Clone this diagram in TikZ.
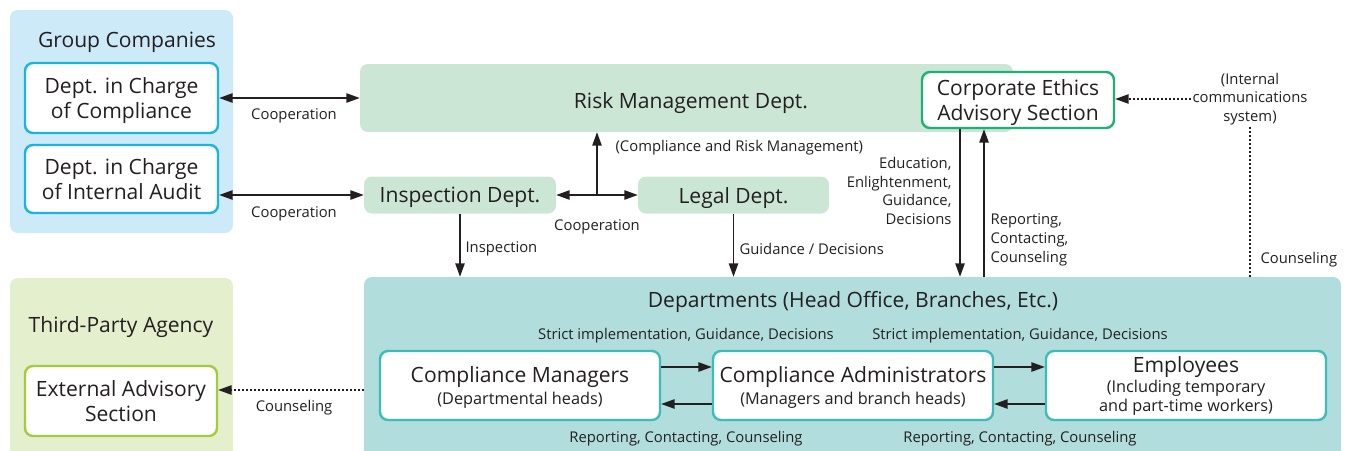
\documentclass[tikz,border=0pt]{standalone}
\usepackage{fontspec}
\setmainfont{Open Sans}
\usetikzlibrary{arrows.meta,calc}

\definecolor{inkgray}{HTML}{231F20}
\definecolor{grpblue}{HTML}{CDEAF9}
\definecolor{grpline}{HTML}{18B5E0}
\definecolor{riskgreen}{HTML}{CCE6D6}
\definecolor{ethicsline}{HTML}{1DB173}
\definecolor{agencygreen}{HTML}{E4EFCD}
\definecolor{agencyline}{HTML}{A3CB3C}
\definecolor{deptteal}{HTML}{B1DEDC}
\definecolor{deptline}{HTML}{3DBDBA}

\newcommand\fbig{\fontsize{15.8}{19}\selectfont}
\newcommand\fmid{\fontsize{12.2}{14.5}\selectfont}
\newcommand\fsmall{\fontsize{11.1}{14}\selectfont}

\tikzset{
  px/.style 2 args={minimum width=#1*0.75pt, minimum height=#2*0.75pt, inner sep=0pt},
  bg/.style={rounded corners=6pt, fill=#1},
  whitebox/.style={draw=#1, line width=1.8pt, fill=white, rounded corners=6pt, align=center, text=inkgray, font=\fbig, text depth=0pt},
  boxtext/.style={text=inkgray, font=\fbig, align=center, text depth=0pt},
  title/.style={text=inkgray, font=\fbig, align=center, yshift=-1.5pt},
  lbl/.style={text=inkgray, font=\fsmall, align=center, inner sep=1pt, yshift=-1.5pt},
  arr/.style={->, line width=1pt, inkgray},
  twoarr/.style={<->, line width=1pt, inkgray},
  dotarr/.style={line width=0.9pt, inkgray, dash pattern=on 1.5pt off 1.5pt}
}

\begin{document}
\begin{tikzpicture}[x=0.75pt, y=-0.75pt, >={Triangle[length=10pt,width=7pt]}]
	\useasboundingbox (0,0) rectangle (1348,450);

	% backgrounds
	\node[bg=grpblue, px={223}{223}] (grp) at (121.5,121.5) {};
	\node[bg=agencygreen, px={223}{190}] (agency) at (121.5,373) {};
	\node[bg=deptteal, px={977}{190}] (dept) at (852.5,372) {};
	\node[bg=riskgreen, px={653}{68}] (risk) at (686.5,98) {};
	\node[bg=riskgreen, px={192}{37}, boxtext] (insp) at (460,195) {Inspection Dept.};
	\node[bg=riskgreen, px={191}{37}, boxtext] (legal) at (733.5,195) {Legal Dept.};

	% titles
	\node[title] (grptitle) at (127,40) {Group Companies};
	\node[title] (agencytitle) at (121,325) {Third-Party Agency};
	\node[title] (risktitle) at (691,101) {Risk Management Dept.};
	\node[title] (depttitle) at (853,300) {Departments (Head Office, Branches, Etc.)};

	% boxes
	\node[whitebox=grpline, px={193}{70}] (comp) at (121.5,98) {Dept. in Charge\\of Compliance};
	\node[whitebox=grpline, px={193}{68}] (audit) at (121.5,179) {Dept. in Charge\\of Internal Audit};
	\node[whitebox=ethicsline, px={192}{56}] (ethics) at (1018,100) {Corporate Ethics\\Advisory Section};
	\node[whitebox=agencyline, px={192}{70}] (ext) at (121,401) {External Advisory\\Section};
	\node[whitebox=deptline, px={280}{69}] (mgr) at (520,385.5) {Compliance Managers\\[-2.5pt]{\fmid(Departmental heads)}};
	\node[whitebox=deptline, px={280}{69}] (adm) at (853,385.5) {Compliance Administrators\\[-2.5pt]{\fmid(Managers and branch heads)}};
	\node[whitebox=deptline, px={280}{69}, font=\fmid, text depth=2pt] (emp) at (1186,385.5) {{\fbig Employees}\\(Including temporary\\and part-time workers)};

	% top connectors
	\draw[twoarr] (comp) -- (risk);
	\node[lbl] (coop1) at (294,114) {Cooperation};
	\draw[twoarr] (audit.east |- insp.west) -- (insp);
	\node[lbl] (coop2) at (294,212) {Cooperation};
	\coordinate (tee) at ($(insp.east)!0.5!(legal.west)$);
	\draw[twoarr] (insp) -- (legal);
	\draw[arr] (tee) -- (tee |- risk.south);
	\node[lbl] (coop3) at (597,225) {Cooperation};
	\node[lbl, anchor=west] (crm) at (614,146) {(Compliance and Risk Management)};

	\draw[arr] (insp) -- (insp |- dept.north);
	\node[lbl, anchor=west] (insplbl) at (464,247) {Inspection};
	\draw[arr] (legal) -- (legal |- dept.north);
	\node[lbl, anchor=west] (legallbl) at (738,247) {Guidance / Decisions};

	\coordinate (edudown) at ($(ethics.south)+(-58,0)$);
	\coordinate (repup) at ($(ethics.south)+(-34,0)$);
	\draw[arr] (edudown) -- (edudown |- dept.north);
	\draw[arr] (repup |- dept.north) -- (repup);
	\node[lbl, anchor=east, align=right] (edulbl) at (953,189) {Education,\\Enlightenment,\\Guidance,\\Decisions};
	\node[lbl, anchor=west, align=left] (replbl) at (989,238) {Reporting,\\Contacting,\\Counseling};

	\node[lbl] (ics) at (1250,97) {(Internal\\communications\\system)};
	\draw[dotarr, ->] (ics.west) -- (ics.west -| ethics.east);
	\draw[dotarr] (ics.south) -- (ics.south |- dept.north);
	\node[lbl, anchor=west] (icslbl) at (1259,258) {Counseling};

	% left connector
	\coordinate (extin) at ($(ext.east)+(0,-11)$);
	\draw[dotarr, ->] (extin -| dept.west) -- (extin);
	\node[lbl] (extlbl) at (294,406) {Counseling};

	% inside departments
	\draw[arr] ($(mgr.east)+(0,-18.5)$) -- ($(adm.west)+(0,-18.5)$);
	\draw[arr] ($(adm.west)+(0,18.5)$) -- ($(mgr.east)+(0,18.5)$);
	\draw[arr] ($(adm.east)+(0,-18.5)$) -- ($(emp.west)+(0,-18.5)$);
	\draw[arr] ($(emp.west)+(0,18.5)$) -- ($(adm.east)+(0,18.5)$);
	\node[lbl] (sig1) at (686,334) {Strict implementation, Guidance, Decisions};
	\node[lbl] (sig2) at (1020,334) {Strict implementation, Guidance, Decisions};
	\node[lbl] (rep1) at (686,437) {Reporting, Contacting, Counseling};
	\node[lbl] (rep2) at (1020,437) {Reporting, Contacting, Counseling};
\end{tikzpicture}
\end{document}
